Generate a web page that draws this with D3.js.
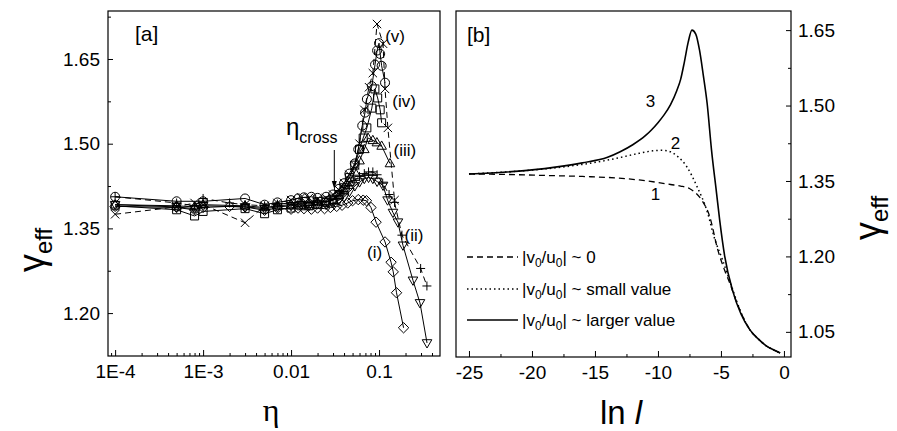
<!DOCTYPE html>
<html>
<head>
<meta charset="utf-8">
<script src="https://cdn.jsdelivr.net/npm/d3@7/dist/d3.min.js"></script>
<style>
  html, body { margin: 0; padding: 0; background: #fff; }
  svg { display: block; }
  text { font-family: "Liberation Sans", Arial, sans-serif; fill: #000; }
  text.serif { font-family: "Liberation Serif", "DejaVu Serif", serif; }
</style>
</head>
<body>
<svg id="chart" width="897" height="431"></svg>
<script>
// ---------- Panel [a]: gamma_eff versus eta (log axis) ----------
const etaMajorTicks = [1e-4, 1e-3, 0.01, 0.1];
const etaTickLabels = ["1E-4", "1E-3", "0.01", "0.1"];
const gammaTicksA = [1.20, 1.35, 1.50, 1.65];

// (i) diamonds, solid
const seriesI = [[1e-4,1.389],[5e-4,1.387],[8e-4,1.383],[1e-3,1.387],[2e-3,1.389],[3e-3,1.388],[5e-3,1.382],[7e-3,1.386],[0.01,1.384],[0.012,1.386],[0.014,1.385],[0.017,1.384],[0.02,1.386],[0.024,1.385],[0.028,1.387],[0.033,1.389],[0.038,1.391],[0.044,1.395],[0.05,1.399],[0.058,1.401],[0.066,1.4],[0.072,1.399],[0.081,1.387],[0.0925,1.361],[0.117,1.326],[0.137,1.29],[0.145,1.273],[0.158,1.236],[0.19,1.174]];
// (ii) down triangles, solid
const seriesII = [[1e-4,1.392],[5e-4,1.388],[8e-4,1.385],[1e-3,1.39],[3e-3,1.388],[5e-3,1.385],[7e-3,1.388],[0.01,1.39],[0.013,1.392],[0.016,1.39],[0.02,1.393],[0.025,1.392],[0.03,1.395],[0.035,1.4],[0.04,1.405],[0.046,1.415],[0.053,1.425],[0.06,1.432],[0.068,1.438],[0.076,1.44],[0.085,1.438],[0.095,1.433],[0.111,1.426],[0.125,1.4],[0.144,1.378],[0.164,1.361],[0.187,1.32],[0.243,1.258],[0.292,1.218],[0.351,1.147]];
// (ii) plus markers, dashed
const seriesIIPlus = [[1e-4,1.406],[5e-4,1.395],[8e-4,1.39],[1e-3,1.403],[2e-3,1.395],[3e-3,1.392],[5e-3,1.39],[7e-3,1.393],[0.01,1.395],[0.013,1.397],[0.016,1.395],[0.02,1.397],[0.025,1.398],[0.03,1.402],[0.035,1.408],[0.04,1.415],[0.046,1.425],[0.053,1.435],[0.06,1.442],[0.068,1.447],[0.076,1.45],[0.085,1.45],[0.095,1.445],[0.11,1.43],[0.13,1.41],[0.15,1.396],[0.182,1.338],[0.297,1.279],[0.35,1.248]];
// (iii) up triangles, solid
const seriesIII = [[1e-4,1.392],[5e-4,1.39],[8e-4,1.388],[1e-3,1.392],[3e-3,1.39],[5e-3,1.387],[7e-3,1.39],[0.01,1.392],[0.013,1.394],[0.016,1.393],[0.02,1.396],[0.025,1.397],[0.03,1.4],[0.035,1.408],[0.04,1.418],[0.046,1.432],[0.053,1.45],[0.06,1.47],[0.068,1.49],[0.075,1.51],[0.085,1.506],[0.0945,1.502],[0.107,1.496],[0.133,1.465]];
// (iv) squares, solid
const seriesIV = [[1e-4,1.39],[5e-4,1.383],[8e-4,1.372],[1e-3,1.38],[3e-3,1.385],[5e-3,1.376],[7e-3,1.383],[0.01,1.386],[0.013,1.39],[0.016,1.39],[0.02,1.393],[0.025,1.396],[0.03,1.4],[0.035,1.41],[0.04,1.422],[0.046,1.44],[0.053,1.462],[0.06,1.49],[0.066,1.51],[0.0727,1.528],[0.0828,1.563],[0.0897,1.597],[0.0965,1.581],[0.103,1.56],[0.107,1.537]];
// (v) circles, solid
const seriesV = [[1e-4,1.406],[5e-4,1.398],[1e-3,1.398],[3e-3,1.403],[5e-3,1.392],[7e-3,1.396],[0.01,1.4],[0.012,1.403],[0.014,1.405],[0.017,1.406],[0.02,1.404],[0.025,1.406],[0.03,1.41],[0.035,1.42],[0.04,1.43],[0.046,1.447],[0.053,1.465],[0.058,1.49],[0.0644,1.532],[0.0693,1.555],[0.0727,1.579],[0.0828,1.602],[0.09,1.64],[0.095,1.665],[0.1,1.678],[0.103,1.659],[0.107,1.638],[0.117,1.608]];
// (v) cross markers, dashed
const seriesVCross = [[1e-4,1.375],[5e-4,1.388],[8e-4,1.395],[1e-3,1.392],[3e-3,1.36],[5e-3,1.39],[7e-3,1.395],[0.01,1.4],[0.013,1.405],[0.016,1.404],[0.02,1.402],[0.025,1.404],[0.03,1.41],[0.035,1.418],[0.04,1.43],[0.046,1.445],[0.053,1.462],[0.06,1.5],[0.068,1.56],[0.077,1.6],[0.085,1.625],[0.0948,1.712],[0.111,1.677],[0.117,1.597],[0.126,1.528],[0.15,1.40]];

const curveLabelsA = [
  {text: "(i)",   eta: 0.089, gamma: 1.297},
  {text: "(ii)",  eta: 0.25,  gamma: 1.327},
  {text: "(iii)", eta: 0.197, gamma: 1.479},
  {text: "(iv)",  eta: 0.193, gamma: 1.565},
  {text: "(v)",   eta: 0.152, gamma: 1.680}
];
const etaCross = 0.031;

// ---------- Panel [b]: gamma_eff versus ln l ----------
const lnTicks = [-25, -20, -15, -10, -5, 0];
const gammaTicksB = [1.05, 1.20, 1.35, 1.50, 1.65];

// curve 1: |v0/u0| ~ 0 (dashed)
const curve1 = [[-25,1.364],[-22,1.363],[-19,1.361],[-16,1.359],[-13.3,1.356],[-11.5,1.352],[-10,1.347],[-9,1.343],[-8.2,1.34],[-7.5,1.335],[-7,1.326],[-6.5,1.311],[-5.9,1.28],[-5.25,1.213],[-4.7,1.172],[-4.3,1.147],[-3.8,1.112],[-3.2,1.077],[-2.7,1.054],[-2,1.035],[-1.4,1.022],[-0.8,1.014],[-0.3,1.008]];
// curve 2: |v0/u0| ~ small value (dotted)
const curve2 = [[-25,1.364],[-22,1.368],[-19,1.374],[-16,1.383],[-13.3,1.395],[-11.5,1.405],[-10.4,1.41],[-9.6,1.411],[-9,1.408],[-8.4,1.398],[-7.7,1.378],[-6.9,1.339],[-6.1,1.29],[-5.5,1.235],[-4.9,1.195],[-4.15,1.14],[-3.4,1.088],[-2.7,1.054],[-2,1.035],[-1.4,1.022],[-0.8,1.014],[-0.3,1.008]];
// curve 3: |v0/u0| ~ larger value (solid)
const curve3 = [[-25,1.364],[-22,1.368],[-20,1.372],[-18,1.378],[-16,1.386],[-14,1.397],[-13,1.408],[-12,1.422],[-11,1.44],[-10.5,1.452],[-10,1.466],[-9.5,1.482],[-9,1.502],[-8.5,1.53],[-8.2,1.552],[-7.9,1.587],[-7.6,1.626],[-7.3,1.650],[-7.0,1.642],[-6.7,1.61],[-6.4,1.56],[-6.1,1.505],[-5.75,1.412],[-5.35,1.326],[-5.1,1.272],[-4.7,1.2],[-4.05,1.13],[-3.4,1.085],[-2.7,1.054],[-2,1.035],[-1.4,1.022],[-0.8,1.014],[-0.3,1.008]];

const curveLabelsB = [
  {text: "1", l: -10.2, gamma: 1.312},
  {text: "2", l: -8.6,  gamma: 1.414},
  {text: "3", l: -10.6, gamma: 1.497}
];
const legendEntries = [
  {dash: "6,4", tail: " ~ 0"},
  {dash: "1.5,3", tail: " ~ small value"},
  {dash: null, tail: " ~ larger value"}
];

// ---------- drawing ----------
const svg = d3.select("#chart");
svg.append("rect").attr("width", 897).attr("height", 431).attr("fill", "#fff");

const A = {left: 108, right: 440, top: 11, bottom: 356};
const B = {left: 456, right: 791, top: 11, bottom: 357};

const xA = d3.scaleLog().domain([8.3e-5, 0.493]).range([A.left, A.right]);
const yA = d3.scaleLinear().domain([1.124, 1.735]).range([A.bottom, A.top]);
const xB = d3.scaleLinear().domain([-26.03, 0.56]).range([B.left, B.right]);
const yB = d3.scaleLinear().domain([1.0, 1.688]).range([B.bottom, B.top]);

const tickFont = 19;

function styleAxis(g) {
  g.select(".domain").remove();
  g.selectAll(".tick line").attr("stroke", "#000").attr("stroke-width", 1);
  g.selectAll(".tick text").attr("font-size", tickFont)
    .attr("font-family", "'Liberation Sans', Arial, sans-serif").attr("fill", "#000");
}

// Panel a axes
const minorEta = [];
[1e-5, 1e-4, 1e-3, 1e-2, 1e-1].forEach(dec => {
  for (let k = 2; k <= 9; k++) {
    const v = dec * k;
    if (v >= 8.3e-5 && v <= 0.493 && !etaMajorTicks.includes(v)) minorEta.push(v);
  }
});
svg.append("g").attr("transform", `translate(0,${A.bottom})`)
  .call(d3.axisBottom(xA).tickValues(minorEta).tickSize(-3).tickFormat(""))
  .call(styleAxis);
svg.append("g").attr("transform", `translate(0,${A.bottom})`)
  .call(d3.axisBottom(xA).tickValues(etaMajorTicks).tickSize(-6).tickPadding(9)
    .tickFormat((d, i) => etaTickLabels[i]))
  .call(styleAxis);
const minorGammaA = gammaTicksA.map(v => v + 0.075).filter(v => v < 1.735);
svg.append("g").attr("transform", `translate(${A.left},0)`)
  .call(d3.axisLeft(yA).tickValues(minorGammaA).tickSize(-3).tickFormat(""))
  .call(styleAxis);
svg.append("g").attr("transform", `translate(${A.left},0)`)
  .call(d3.axisLeft(yA).tickValues(gammaTicksA).tickSize(-5).tickPadding(8)
    .tickFormat(d3.format(".2f")))
  .call(styleAxis);

svg.append("rect").attr("x", A.left).attr("y", A.top)
  .attr("width", A.right - A.left).attr("height", A.bottom - A.top)
  .attr("fill", "none").attr("stroke", "#000").attr("stroke-width", 1.2);

// Panel a series
svg.append("clipPath").attr("id", "clipA").append("rect")
  .attr("x", A.left).attr("y", A.top).attr("width", A.right - A.left).attr("height", A.bottom - A.top);

const lineA = d3.line().x(d => xA(d[0])).y(d => yA(d[1]));
const markerPaths = {
  diamond: "M0,-5.2L5.2,0L0,5.2L-5.2,0Z",
  triDown: "M-4.8,-3.3L4.8,-3.3L0,5Z",
  triUp: "M-4.8,3.3L4.8,3.3L0,-5Z",
  square: "M-4,-4H4V4H-4Z",
  circle: "M4.5,0A4.5,4.5 0 1,1 -4.5,0A4.5,4.5 0 1,1 4.5,0Z",
  plus: "M-4.5,0H4.5M0,-4.5V4.5",
  cross: "M-4.2,-4.2L4.2,4.2M-4.2,4.2L4.2,-4.2"
};
const seriesA = [
  {data: seriesI, marker: "diamond", dash: null},
  {data: seriesII, marker: "triDown", dash: null},
  {data: seriesIIPlus, marker: "plus", dash: "6,4"},
  {data: seriesIII, marker: "triUp", dash: null},
  {data: seriesIV, marker: "square", dash: null},
  {data: seriesV, marker: "circle", dash: null},
  {data: seriesVCross, marker: "cross", dash: "6,4"}
];
const gA = svg.append("g").attr("clip-path", "url(#clipA)");
seriesA.forEach(s => {
  gA.append("path").datum(s.data).attr("d", lineA)
    .attr("fill", "none").attr("stroke", "#000").attr("stroke-width", 1)
    .attr("stroke-dasharray", s.dash);
});
seriesA.forEach(s => {
  gA.selectAll(null).data(s.data).enter().append("path")
    .attr("transform", d => `translate(${xA(d[0])},${yA(d[1])})`)
    .attr("d", markerPaths[s.marker])
    .attr("fill", "none").attr("stroke", "#000").attr("stroke-width", 1);
});

// Panel a annotations
svg.append("text").attr("x", 135).attr("y", 41).attr("font-size", 21).text("[a]");
curveLabelsA.forEach(c => {
  svg.append("text").attr("x", xA(c.eta)).attr("y", yA(c.gamma))
    .attr("text-anchor", "middle").attr("font-size", 17).text(c.text);
});
const crossLabel = svg.append("text").attr("x", 286).attr("y", 135).attr("font-size", 24);
crossLabel.append("tspan").text("η");
crossLabel.append("tspan").attr("font-size", 16).attr("dy", 8).text("cross");
const xc = xA(etaCross);
svg.append("line").attr("x1", xc).attr("x2", xc)
  .attr("y1", 150).attr("y2", 183).attr("stroke", "#000").attr("stroke-width", 1);
svg.append("path")
  .attr("d", `M${xc - 2.5},181L${xc + 2.5},181L${xc},189Z`)
  .attr("fill", "#000");

// Panel b axes
const minorLn = lnTicks.slice(0, -1).map(v => v + 2.5);
svg.append("g").attr("transform", `translate(0,${B.bottom})`)
  .call(d3.axisBottom(xB).tickValues(minorLn).tickSize(-3).tickFormat(""))
  .call(styleAxis);
svg.append("g").attr("transform", `translate(0,${B.bottom})`)
  .call(d3.axisBottom(xB).tickValues(lnTicks).tickSize(-6).tickPadding(9)
    .tickFormat(d => String(d)))
  .call(styleAxis);
const minorGammaB = gammaTicksB.map(v => v + 0.075).filter(v => v < 1.688);
svg.append("g").attr("transform", `translate(${B.right},0)`)
  .call(d3.axisRight(yB).tickValues(minorGammaB).tickSize(-3).tickFormat(""))
  .call(styleAxis);
svg.append("g").attr("transform", `translate(${B.right},0)`)
  .call(d3.axisRight(yB).tickValues(gammaTicksB).tickSize(-5).tickPadding(7)
    .tickFormat(d3.format(".2f")))
  .call(styleAxis);

svg.append("rect").attr("x", B.left).attr("y", B.top)
  .attr("width", B.right - B.left).attr("height", B.bottom - B.top)
  .attr("fill", "none").attr("stroke", "#000").attr("stroke-width", 1.2);

// Panel b curves
const lineB = d3.line().curve(d3.curveMonotoneX).x(d => xB(d[0])).y(d => yB(d[1]));
const curvesB = [
  {data: curve1, dash: "6,4", width: 1.3},
  {data: curve2, dash: "1.5,3", width: 1.5},
  {data: curve3, dash: null, width: 1.6}
];
curvesB.forEach(c => {
  svg.append("path").datum(c.data).attr("d", lineB)
    .attr("fill", "none").attr("stroke", "#000").attr("stroke-width", c.width)
    .attr("stroke-dasharray", c.dash);
});
curveLabelsB.forEach(c => {
  svg.append("text").attr("x", xB(c.l)).attr("y", yB(c.gamma))
    .attr("text-anchor", "middle").attr("font-size", 17).text(c.text);
});
svg.append("text").attr("x", 467).attr("y", 42).attr("font-size", 21).text("[b]");

// Legend
const legendRows = [257, 289, 320];
legendEntries.forEach((e, i) => {
  const y = legendRows[i];
  svg.append("line").attr("x1", 467).attr("x2", 518).attr("y1", y).attr("y2", y)
    .attr("stroke", "#000").attr("stroke-width", 1.4).attr("stroke-dasharray", e.dash);
  const t = svg.append("text").attr("x", 522).attr("y", y + 6).attr("font-size", 17);
  t.append("tspan").text("|v");
  t.append("tspan").attr("font-size", 12).attr("dy", 4).text("0");
  t.append("tspan").attr("dy", -4).text("/u");
  t.append("tspan").attr("font-size", 12).attr("dy", 4).text("0");
  t.append("tspan").attr("dy", -4).text("|" + e.tail);
});

// Axis titles
const yTitleA = svg.append("text").attr("transform", "translate(44,272) rotate(-90)")
  .attr("font-size", 36);
yTitleA.append("tspan").text("γ");
yTitleA.append("tspan").attr("font-size", 24).attr("dy", 8).text("eff");

const yTitleB = svg.append("text").attr("transform", "translate(880,240) rotate(-90)")
  .attr("font-size", 36);
yTitleB.append("tspan").text("γ");
yTitleB.append("tspan").attr("font-size", 24).attr("dy", 8).text("eff");

svg.append("text").attr("class", "serif").attr("x", 271).attr("y", 421)
  .attr("text-anchor", "middle").attr("font-size", 32).text("η");

const xTitleB = svg.append("text").attr("x", 600).attr("y", 424).attr("font-size", 33);
xTitleB.append("tspan").text("ln ");
xTitleB.append("tspan").attr("font-style", "italic").text("l");
</script>
</body>
</html>
